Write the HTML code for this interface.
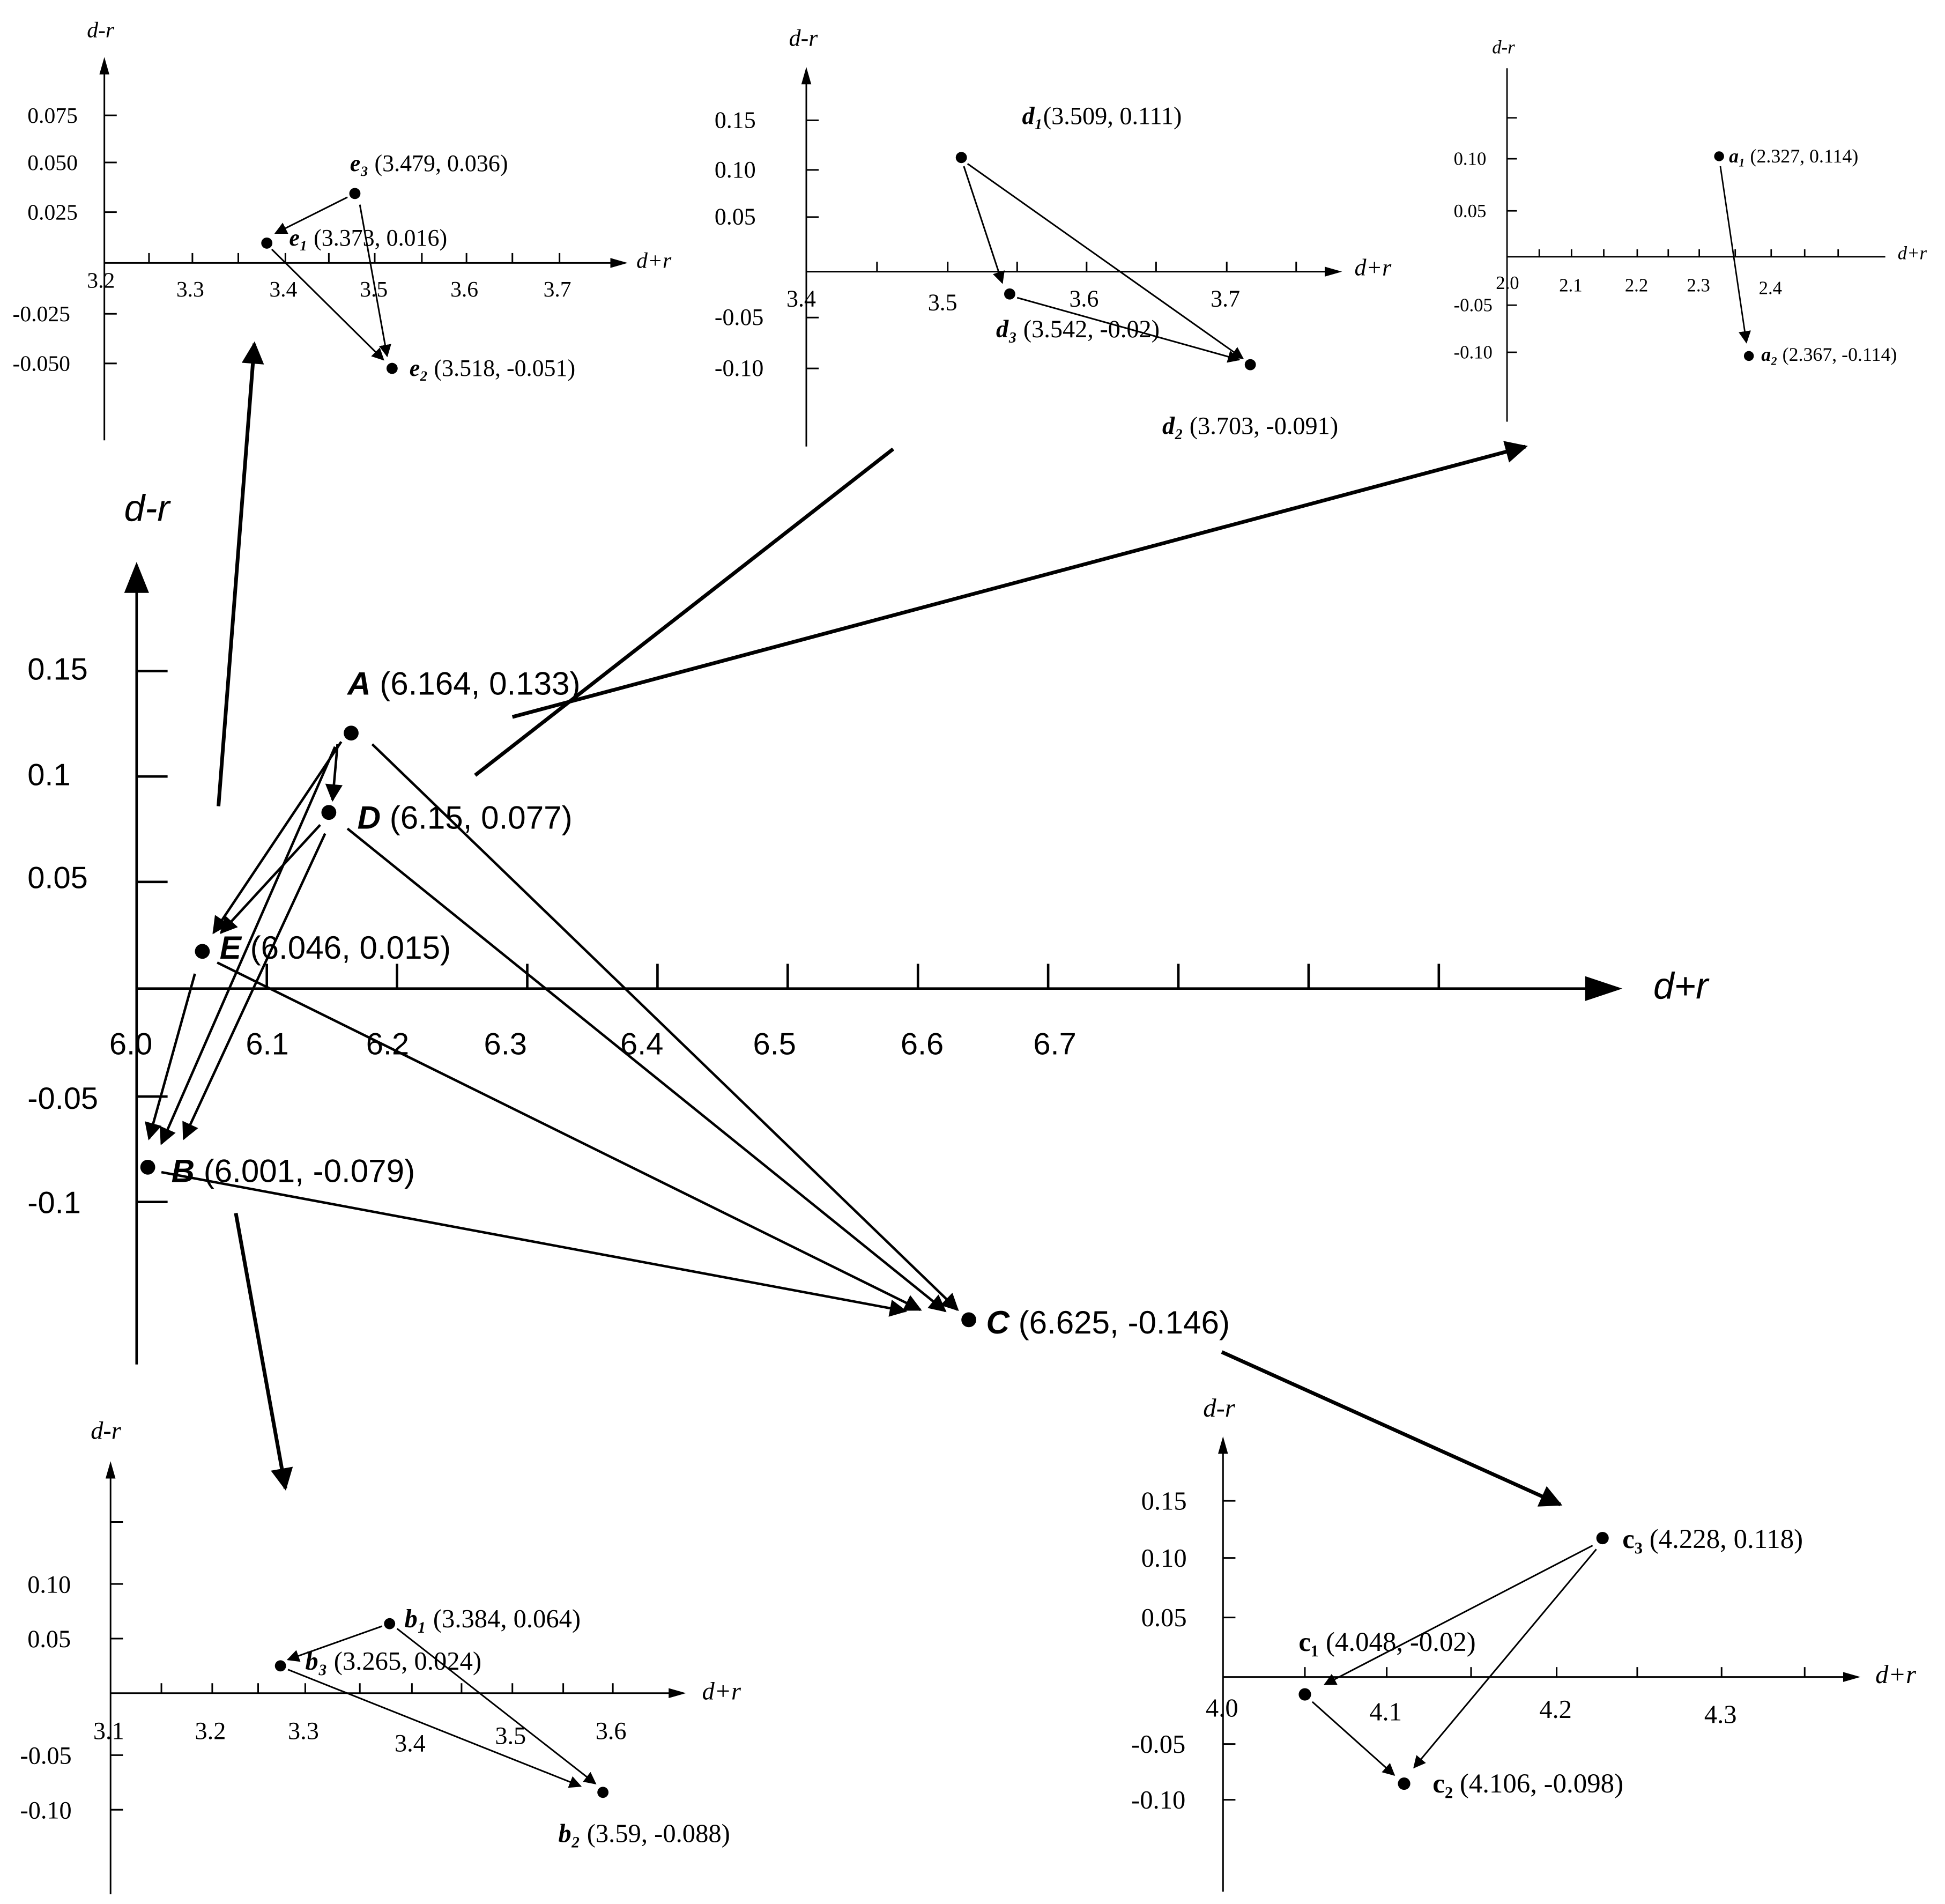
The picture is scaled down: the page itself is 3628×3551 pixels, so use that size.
<!DOCTYPE html>
<html><head><meta charset="utf-8"><style>
html,body{margin:0;padding:0;background:#fff;}
svg{display:block;}
text{font-family:"Liberation Serif",serif;fill:#000;}
.s text, text.s{font-family:"Liberation Sans",sans-serif;}
</style></head><body>
<svg width="3628" height="3551" viewBox="0 0 1568 1535" xmlns="http://www.w3.org/2000/svg">
<defs>
<marker id="am" viewBox="0 0 10 10" refX="9" refY="5" markerWidth="18" markerHeight="14" orient="auto" markerUnits="userSpaceOnUse"><path d="M0,0 L10,5 L0,10z"/></marker>
<marker id="aw" viewBox="0 0 10 10" refX="9" refY="5" markerWidth="10" markerHeight="10" orient="auto" markerUnits="userSpaceOnUse"><path d="M0,0 L10,5 L0,10z"/></marker>
<marker id="ab" viewBox="0 0 10 10" refX="9" refY="5" markerWidth="22" markerHeight="18" orient="auto" markerUnits="userSpaceOnUse"><path d="M0,0 L10,5 L0,10z"/></marker>
</defs>
<rect width="1568" height="1535" fill="#fff"/>

<!-- MAIN CHART -->
<g stroke="#000" stroke-width="2" fill="none">
<line x1="110" y1="1100" x2="110" y2="470"/>
<line x1="110" y1="797" x2="1290" y2="797"/>
<line x1="215" y1="797" x2="215" y2="777"/><line x1="320" y1="797" x2="320" y2="777"/><line x1="425" y1="797" x2="425" y2="777"/><line x1="530" y1="797" x2="530" y2="777"/><line x1="635" y1="797" x2="635" y2="777"/><line x1="740" y1="797" x2="740" y2="777"/><line x1="845" y1="797" x2="845" y2="777"/><line x1="950" y1="797" x2="950" y2="777"/><line x1="1055" y1="797" x2="1055" y2="777"/><line x1="1160" y1="797" x2="1160" y2="777"/>
<line x1="110" y1="541" x2="135" y2="541"/><line x1="110" y1="626" x2="135" y2="626"/><line x1="110" y1="711" x2="135" y2="711"/><line x1="110" y1="884" x2="135" y2="884"/><line x1="110" y1="969" x2="135" y2="969"/>
</g>
<path d="M110,453 L100,478 L120,478z"/>
<path d="M1308,797 L1278,787 L1278,807z"/>
<g class="s" font-size="25">
<text x="22" y="548">0.15</text><text x="22" y="633">0.1</text><text x="22" y="716">0.05</text><text x="22" y="894">-0.05</text><text x="22" y="978">-0.1</text>
<text x="88" y="850">6.0</text><text x="198" y="850">6.1</text><text x="295" y="850">6.2</text><text x="390" y="850">6.3</text><text x="500" y="850">6.4</text><text x="607" y="850">6.5</text><text x="726" y="850">6.6</text><text x="833" y="850">6.7</text>
</g>
<text class="s" x="100" y="420" font-size="30" font-style="italic" style="font-family:'Liberation Sans',sans-serif">d-r</text>
<text class="s" x="1333" y="805" font-size="30" font-style="italic" style="font-family:'Liberation Sans',sans-serif">d+r</text>
<g class="s" font-size="26">
<text x="280" y="560"><tspan font-style="italic" font-weight="bold">A</tspan> (6.164, 0.133)</text>
<text x="288" y="668"><tspan font-style="italic" font-weight="bold">D</tspan> (6.15, 0.077)</text>
<text x="177" y="773"><tspan font-style="italic" font-weight="bold">E</tspan> (6.046, 0.015)</text>
<text x="138" y="953"><tspan font-style="italic" font-weight="bold">B</tspan> (6.001, -0.079)</text>
<text x="795" y="1075"><tspan font-style="italic" font-weight="bold">C</tspan> (6.625, -0.146)</text>
</g>
<g fill="#000"><circle cx="283" cy="591" r="6"/><circle cx="265" cy="655" r="6"/><circle cx="163" cy="767" r="6"/><circle cx="119" cy="941" r="6"/><circle cx="781" cy="1064" r="6"/></g>
<g stroke="#000" stroke-width="2" fill="none" marker-end="url(#am)">
<line x1="275" y1="598" x2="172" y2="752"/>
<line x1="272" y1="600" x2="268" y2="645"/>
<line x1="270" y1="602" x2="130" y2="922"/>
<line x1="300" y1="600" x2="772" y2="1056"/>
<line x1="258" y1="665" x2="178" y2="752"/>
<line x1="262" y1="672" x2="148" y2="918"/>
<line x1="280" y1="668" x2="762" y2="1057"/>
<line x1="157" y1="785" x2="120" y2="918"/>
<line x1="175" y1="776" x2="742" y2="1056"/>
<line x1="130" y1="945" x2="730" y2="1057"/>
</g>
<g stroke="#000" stroke-width="3" fill="none">
<line x1="176" y1="650" x2="205" y2="277" marker-end="url(#ab)"/>
<line x1="383" y1="625" x2="720" y2="362"/>
<line x1="413" y1="578" x2="1230" y2="360" marker-end="url(#ab)"/>
<line x1="190" y1="978" x2="230" y2="1200" marker-end="url(#ab)"/>
<line x1="985" y1="1090" x2="1258" y2="1213" marker-end="url(#ab)"/>
</g>

<!-- PANEL E -->
<g stroke="#000" stroke-width="1.3" fill="none">
<line x1="84" y1="355" x2="84" y2="52"/><line x1="84" y1="212" x2="500" y2="212"/>
<line x1="84" y1="93" x2="94" y2="93"/><line x1="84" y1="131" x2="94" y2="131"/><line x1="84" y1="171" x2="94" y2="171"/><line x1="84" y1="253" x2="94" y2="253"/><line x1="84" y1="293" x2="94" y2="293"/>
<line x1="120" y1="212" x2="120" y2="204"/><line x1="155" y1="212" x2="155" y2="204"/><line x1="192" y1="212" x2="192" y2="204"/><line x1="230" y1="212" x2="230" y2="204"/><line x1="265" y1="212" x2="265" y2="204"/><line x1="302" y1="212" x2="302" y2="204"/><line x1="340" y1="212" x2="340" y2="204"/><line x1="376" y1="212" x2="376" y2="204"/><line x1="413" y1="212" x2="413" y2="204"/><line x1="451" y1="212" x2="451" y2="204"/>
</g>
<path d="M84,46 L80,60 L88,60z"/><path d="M506,212 L492,208 L492,216z"/>
<g font-size="18"><text x="22" y="99">0.075</text><text x="22" y="137">0.050</text><text x="22" y="177">0.025</text><text x="10" y="259">-0.025</text><text x="10" y="299">-0.050</text>
<text x="70" y="232">3.2</text><text x="142" y="239">3.3</text><text x="217" y="239">3.4</text><text x="290" y="239">3.5</text><text x="363" y="239">3.6</text><text x="438" y="239">3.7</text></g>
<text x="70" y="30" font-size="18" font-style="italic">d-r</text><text x="513" y="216" font-size="18" font-style="italic">d+r</text>
<g font-size="19"><text x="282" y="138"><tspan font-style="italic" font-weight="bold">e₃</tspan> (3.479, 0.036)</text>
<text x="233" y="198"><tspan font-style="italic" font-weight="bold">e₁</tspan> (3.373, 0.016)</text>
<text x="330" y="303"><tspan font-style="italic" font-weight="bold">e₂</tspan> (3.518, -0.051)</text></g>
<g><circle cx="286" cy="156" r="4.5"/><circle cx="215" cy="196" r="4.5"/><circle cx="316" cy="297" r="4.5"/></g>
<g stroke="#000" stroke-width="1.3" marker-end="url(#aw)">
<line x1="280" y1="159" x2="222" y2="188"/><line x1="290" y1="165" x2="312" y2="287"/><line x1="219" y1="201" x2="309" y2="290"/></g>

<!-- PANEL D -->
<g stroke="#000" stroke-width="1.3" fill="none">
<line x1="650" y1="360" x2="650" y2="60"/><line x1="650" y1="219" x2="1075" y2="219"/>
<line x1="650" y1="97" x2="660" y2="97"/><line x1="650" y1="137" x2="660" y2="137"/><line x1="650" y1="175" x2="660" y2="175"/><line x1="650" y1="256" x2="660" y2="256"/><line x1="650" y1="297" x2="660" y2="297"/>
<line x1="707" y1="219" x2="707" y2="211"/><line x1="764" y1="219" x2="764" y2="211"/><line x1="820" y1="219" x2="820" y2="211"/><line x1="876" y1="219" x2="876" y2="211"/><line x1="932" y1="219" x2="932" y2="211"/><line x1="989" y1="219" x2="989" y2="211"/><line x1="1045" y1="219" x2="1045" y2="211"/>
</g>
<path d="M650,54 L646,68 L654,68z"/><path d="M1082,219 L1068,215 L1068,223z"/>
<g font-size="19"><text x="576" y="103">0.15</text><text x="576" y="143">0.10</text><text x="576" y="181">0.05</text><text x="576" y="262">-0.05</text><text x="576" y="303">-0.10</text>
<text x="634" y="247">3.4</text><text x="748" y="250">3.5</text><text x="862" y="247">3.6</text><text x="976" y="247">3.7</text></g>
<text x="636" y="37" font-size="19" font-style="italic">d-r</text><text x="1092" y="222" font-size="19" font-style="italic">d+r</text>
<g font-size="20"><text x="824" y="100"><tspan font-style="italic" font-weight="bold">d₁</tspan>(3.509, 0.111)</text>
<text x="803" y="272"><tspan font-style="italic" font-weight="bold">d₃</tspan> (3.542, -0.02)</text>
<text x="937" y="350"><tspan font-style="italic" font-weight="bold">d₂</tspan> (3.703, -0.091)</text></g>
<g><circle cx="775" cy="127" r="4.5"/><circle cx="814" cy="237" r="4.5"/><circle cx="1008" cy="294" r="4.5"/></g>
<g stroke="#000" stroke-width="1.3" marker-end="url(#aw)">
<line x1="777" y1="134" x2="808" y2="228"/><line x1="780" y1="132" x2="1002" y2="289"/><line x1="820" y1="240" x2="999" y2="290"/></g>

<!-- PANEL A -->
<g stroke="#000" stroke-width="1.2" fill="none">
<line x1="1215" y1="340" x2="1215" y2="55"/><line x1="1215" y1="207" x2="1520" y2="207"/>
<line x1="1215" y1="95" x2="1223" y2="95"/><line x1="1215" y1="128" x2="1223" y2="128"/><line x1="1215" y1="170" x2="1223" y2="170"/><line x1="1215" y1="246" x2="1223" y2="246"/><line x1="1215" y1="284" x2="1223" y2="284"/>
<line x1="1241" y1="207" x2="1241" y2="201"/><line x1="1267" y1="207" x2="1267" y2="201"/><line x1="1293" y1="207" x2="1293" y2="201"/><line x1="1320" y1="207" x2="1320" y2="201"/><line x1="1345" y1="207" x2="1345" y2="201"/><line x1="1370" y1="207" x2="1370" y2="201"/><line x1="1399" y1="207" x2="1399" y2="201"/><line x1="1428" y1="207" x2="1428" y2="201"/><line x1="1455" y1="207" x2="1455" y2="201"/><line x1="1482" y1="207" x2="1482" y2="201"/>
</g>
<g font-size="15"><text x="1172" y="133">0.10</text><text x="1172" y="175">0.05</text><text x="1172" y="251">-0.05</text><text x="1172" y="289">-0.10</text>
<text x="1206" y="233">2.0</text><text x="1257" y="235">2.1</text><text x="1310" y="235">2.2</text><text x="1360" y="235">2.3</text><text x="1418" y="237">2.4</text></g>
<text x="1203" y="43" font-size="15" font-style="italic">d-r</text><text x="1530" y="209" font-size="15" font-style="italic">d+r</text>
<g font-size="15.5"><text x="1394" y="131"><tspan font-style="italic" font-weight="bold">a₁</tspan> (2.327, 0.114)</text>
<text x="1420" y="291"><tspan font-style="italic" font-weight="bold">a₂</tspan> (2.367, -0.114)</text></g>
<g><circle cx="1386" cy="126" r="4"/><circle cx="1410" cy="287" r="4"/></g>
<line x1="1387" y1="134" x2="1408" y2="276" stroke="#000" stroke-width="1.2" marker-end="url(#aw)"/>

<!-- PANEL B -->
<g stroke="#000" stroke-width="1.3" fill="none">
<line x1="89" y1="1527" x2="89" y2="1185"/><line x1="89" y1="1365" x2="545" y2="1365"/>
<line x1="89" y1="1227" x2="99" y2="1227"/><line x1="89" y1="1277" x2="99" y2="1277"/><line x1="89" y1="1321" x2="99" y2="1321"/><line x1="89" y1="1415" x2="99" y2="1415"/><line x1="89" y1="1459" x2="99" y2="1459"/>
<line x1="130" y1="1365" x2="130" y2="1357"/><line x1="171" y1="1365" x2="171" y2="1357"/><line x1="208" y1="1365" x2="208" y2="1357"/><line x1="246" y1="1365" x2="246" y2="1357"/><line x1="290" y1="1365" x2="290" y2="1357"/><line x1="332" y1="1365" x2="332" y2="1357"/><line x1="372" y1="1365" x2="372" y2="1357"/><line x1="413" y1="1365" x2="413" y2="1357"/><line x1="454" y1="1365" x2="454" y2="1357"/><line x1="494" y1="1365" x2="494" y2="1357"/>
</g>
<path d="M89,1178 L85,1192 L93,1192z"/><path d="M553,1365 L539,1361 L539,1369z"/>
<g font-size="20"><text x="22" y="1284">0.10</text><text x="22" y="1328">0.05</text><text x="16" y="1422">-0.05</text><text x="16" y="1466">-0.10</text>
<text x="75" y="1402">3.1</text><text x="157" y="1402">3.2</text><text x="232" y="1402">3.3</text><text x="318" y="1412">3.4</text><text x="399" y="1406">3.5</text><text x="480" y="1402">3.6</text></g>
<text x="73" y="1160" font-size="20" font-style="italic">d-r</text><text x="566" y="1370" font-size="20" font-style="italic">d+r</text>
<g font-size="21"><text x="326" y="1312"><tspan font-style="italic" font-weight="bold">b₁</tspan> (3.384, 0.064)</text>
<text x="246" y="1346"><tspan font-style="italic" font-weight="bold">b₃</tspan> (3.265, 0.024)</text>
<text x="450" y="1485"><tspan font-style="italic" font-weight="bold">b₂</tspan> (3.59, -0.088)</text></g>
<g><circle cx="314" cy="1309" r="4.5"/><circle cx="226" cy="1343" r="4.5"/><circle cx="486" cy="1445" r="4.5"/></g>
<g stroke="#000" stroke-width="1.3" marker-end="url(#aw)">
<line x1="308" y1="1311" x2="232" y2="1338"/><line x1="320" y1="1313" x2="480" y2="1438"/><line x1="232" y1="1346" x2="468" y2="1440"/></g>

<!-- PANEL C -->
<g stroke="#000" stroke-width="1.3" fill="none">
<line x1="986" y1="1525" x2="986" y2="1165"/><line x1="986" y1="1352" x2="1490" y2="1352"/>
<line x1="986" y1="1210" x2="996" y2="1210"/><line x1="986" y1="1256" x2="996" y2="1256"/><line x1="986" y1="1304" x2="996" y2="1304"/><line x1="986" y1="1406" x2="996" y2="1406"/><line x1="986" y1="1451" x2="996" y2="1451"/>
<line x1="1052" y1="1352" x2="1052" y2="1344"/><line x1="1118" y1="1352" x2="1118" y2="1344"/><line x1="1186" y1="1352" x2="1186" y2="1344"/><line x1="1255" y1="1352" x2="1255" y2="1344"/><line x1="1320" y1="1352" x2="1320" y2="1344"/><line x1="1388" y1="1352" x2="1388" y2="1344"/><line x1="1455" y1="1352" x2="1455" y2="1344"/>
</g>
<path d="M986,1158 L982,1172 L990,1172z"/><path d="M1500,1352 L1486,1348 L1486,1356z"/>
<g font-size="21"><text x="920" y="1217">0.15</text><text x="920" y="1263">0.10</text><text x="920" y="1311">0.05</text><text x="912" y="1413">-0.05</text><text x="912" y="1458">-0.10</text>
<text x="972" y="1384">4.0</text><text x="1104" y="1387">4.1</text><text x="1241" y="1385">4.2</text><text x="1374" y="1389">4.3</text></g>
<text x="970" y="1142" font-size="21" font-style="italic">d-r</text><text x="1512" y="1357" font-size="21" font-style="italic">d+r</text>
<g font-size="22"><text x="1308" y="1248"><tspan font-weight="bold">c₃</tspan> (4.228, 0.118)</text>
<text x="1047" y="1331"><tspan font-weight="bold">c₁</tspan> (4.048, -0.02)</text>
<text x="1155" y="1445"><tspan font-weight="bold">c₂</tspan> (4.106, -0.098)</text></g>
<g><circle cx="1292" cy="1240" r="5"/><circle cx="1052" cy="1366" r="5"/><circle cx="1132" cy="1438" r="5"/></g>
<g stroke="#000" stroke-width="1.3" marker-end="url(#aw)">
<line x1="1284" y1="1246" x2="1068" y2="1358"/><line x1="1287" y1="1249" x2="1140" y2="1425"/><line x1="1058" y1="1372" x2="1124" y2="1431"/></g>
</svg>
</body></html>
